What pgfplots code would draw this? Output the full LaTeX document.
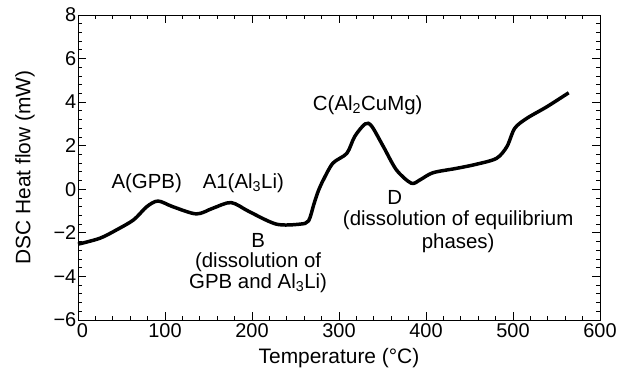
\documentclass[border=0pt]{standalone}
\usepackage{fontspec}
\setmainfont{Liberation Sans}
\usepackage{pgfplots}
\pgfplotsset{compat=1.18}
\begin{document}
\fontsize{20.5}{23}\selectfont
\begin{tikzpicture}
\begin{axis}[
  scale only axis,
  width=522bp, height=305bp,
  xmin=0, xmax=600, ymin=-6, ymax=8,
  xtick={0,100,...,600},
  xticklabels={\kern9bp 0,100,200,300,400,500,600},
  ytick={-6,-4,...,8},
  yticklabels={−6,−4,−2,0,2,4,6,8},
  minor x tick num=4,
  minor y tick num=4,
  tick align=inside,
  major tick length=8bp,
  minor tick length=4bp,
  tick style={black, line width=0.8pt},
  axis line style={black, line width=0.9pt},
  tick label style={font=\fontsize{20}{22}\selectfont},
  yticklabel style={inner xsep=1.5bp},
  xticklabel style={inner ysep=3bp},
  label style={font=\fontsize{21}{23}\selectfont},
  xlabel={Temperature (°C)},
  ylabel={DSC Heat flow (mW)},
  xlabel style={at={(axis description cs:0.5,-0.125)}, anchor=center},
  ylabel style={at={(axis description cs:-0.1015,0.5)}, anchor=center},
  clip=false,
]
\addplot[black, line width=3.5pt, smooth, tension=0.5] coordinates {
(0,-2.52) (25,-2.25) (44,-1.87) (64,-1.4) (79,-0.8) (92,-0.54) (109,-0.8)
(136,-1.13) (155,-0.87) (176,-0.61) (197,-1.03) (228,-1.6) (255,-1.6)
(265,-1.45) (271,-0.7) (276,-0.1) (282,0.43) (293,1.2) (309,1.65)
(318,2.42) (330,3.0) (337.5,2.9) (351,1.96) (366,0.89) (383,0.28)
(393,0.43) (408,0.76) (435,0.96) (458,1.15) (481,1.42) (493,1.96)
(502,2.8) (516,3.26) (539,3.79) (564,4.43)
};
\node at (axis cs:79,0.29) {A(GPB)};
\node at (axis cs:190,0.29) {A1(Al\textsubscript{3}Li)};
\node at (axis cs:333,3.87) {C(Al\textsubscript{2}CuMg)};
\node at (axis cs:364,-0.38) {D};
\node at (axis cs:437,-1.4) {(dissolution of equilibrium};
\node at (axis cs:437,-2.46) {phases)};
\node at (axis cs:207,-2.37) {B};
\node at (axis cs:207,-3.33) {(dissolution of};
\node at (axis cs:207,-4.3) {GPB and Al\textsubscript{3}Li)};
\path (rel axis cs:0,0) ++(-78bp,-60bp);
\path (rel axis cs:1,1) ++(28bp,15bp);
\end{axis}
\end{tikzpicture}
\end{document}
